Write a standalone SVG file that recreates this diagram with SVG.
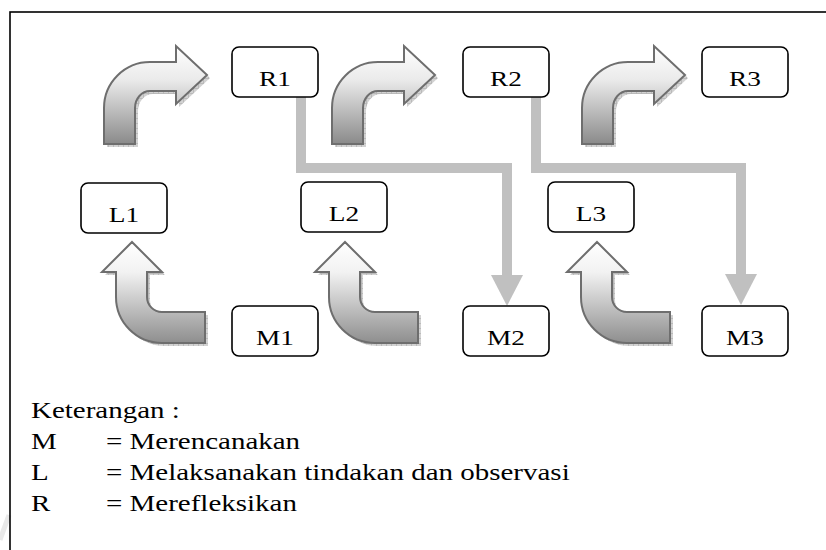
<svg xmlns="http://www.w3.org/2000/svg" width="826" height="550" viewBox="0 0 826 550">
  <style>
    .frame { fill: none; stroke: #000; stroke-width: 1.6; }
    .box { fill: #fff; stroke: #000; stroke-width: 1.6; }
    .lbl { font-family: "Liberation Serif", "Times New Roman", serif; font-size: 21px; text-anchor: middle; fill: #000; }
    .lg { font-family: "Liberation Serif", "Times New Roman", serif; font-size: 23px; fill: #000; }
    .conn { fill: none; stroke: #c0c0c0; stroke-width: 10; stroke-linejoin: miter; stroke-linecap: butt; }
    .barrow { stroke: #6e6e6e; stroke-width: 2; stroke-linejoin: miter; }
    .shadow { fill: url(#hatch); stroke: none; }
  </style>
  <defs>
    <linearGradient id="gTop" x1="0" y1="0" x2="0" y2="1">
      <stop offset="0" stop-color="#ffffff"/>
      <stop offset="0.35" stop-color="#eaeaea"/>
      <stop offset="1" stop-color="#8a8a8a"/>
    </linearGradient>
    <linearGradient id="gBot" x1="0" y1="0" x2="0" y2="1">
      <stop offset="0" stop-color="#ffffff"/>
      <stop offset="0.3" stop-color="#f2f2f2"/>
      <stop offset="1" stop-color="#8e8e8e"/>
    </linearGradient>
    <pattern id="hatch" width="5" height="5" patternUnits="userSpaceOnUse">
      <rect width="5" height="5" fill="#d2d2d2"/>
      <path d="M0,0.5 H5 M0.5,0 V5" stroke="#b4b4b4" stroke-width="0.8"/>
    </pattern>
    <marker id="ah" markerUnits="userSpaceOnUse" markerWidth="31" markerHeight="32" viewBox="0 0 31 32" refX="0" refY="16" orient="auto">
      <path d="M0,0 L31,16 L0,32 Z" fill="#c0c0c0"/>
    </marker>
    <path id="arrUp" d="M104,144 L104,108 A46,46 0 0 1 150,62 L176,62 L176,46 L207,75 L176,104 L176,91 L150,91 A15,17 0 0 0 135,108 L135,144 Z"/>
    <path id="arrBot" d="M132,242 L162,272 L147,272 L147,297 A15,15 0 0 0 162,312 L205,312 L205,343 L162,343 A46,46 0 0 1 116,297 L116,272 L102,272 Z"/>
  </defs>

  <rect width="826" height="550" fill="#fff"/>
  <line x1="0" y1="540" x2="9" y2="515" stroke="#e9e9e9" stroke-width="5"/>
  <rect class="frame" x="10" y="12" width="840" height="560"/>

  <g id="block-arrows">
    <g id="arrow-m1-l1">
      <use href="#arrBot" class="shadow" transform="translate(3,3)"/>
      <use href="#arrBot" class="barrow" fill="url(#gBot)"/>
    </g>
    <g id="arrow-l1-r1">
      <use href="#arrUp" class="shadow" transform="translate(3,3)"/>
      <use href="#arrUp" class="barrow" fill="url(#gTop)"/>
    </g>
    <g id="arrow-m2-l2" transform="translate(213,0)">
      <use href="#arrBot" class="shadow" transform="translate(3,3)"/>
      <use href="#arrBot" class="barrow" fill="url(#gBot)"/>
    </g>
    <g id="arrow-l2-r2" transform="translate(228,0)">
      <use href="#arrUp" class="shadow" transform="translate(3,3)"/>
      <use href="#arrUp" class="barrow" fill="url(#gTop)"/>
    </g>
    <g id="arrow-m3-l3" transform="translate(465,0)">
      <use href="#arrBot" class="shadow" transform="translate(3,3)"/>
      <use href="#arrBot" class="barrow" fill="url(#gBot)"/>
    </g>
    <g id="arrow-l3-r3" transform="translate(478,0)">
      <use href="#arrUp" class="shadow" transform="translate(3,3)"/>
      <use href="#arrUp" class="barrow" fill="url(#gTop)"/>
    </g>
  </g>

  <g id="connectors">
    <path class="conn" d="M301,97 V168 H507 V275" marker-end="url(#ah)"/>
    <path class="conn" d="M536,97 V168 H741 V274" marker-end="url(#ah)"/>
  </g>

  <g id="R1"><rect class="box" x="232" y="47" width="86" height="50" rx="7"/><text class="lbl" transform="translate(275,86) scale(1.3,1)">R1</text></g>
  <g id="R2"><rect class="box" x="463" y="47" width="86" height="50" rx="7"/><text class="lbl" transform="translate(506,86) scale(1.3,1)">R2</text></g>
  <g id="R3"><rect class="box" x="702" y="47" width="86" height="50" rx="7"/><text class="lbl" transform="translate(745,86) scale(1.3,1)">R3</text></g>
  <g id="L1"><rect class="box" x="81" y="183" width="86" height="50" rx="7"/><text class="lbl" transform="translate(124,222) scale(1.3,1)">L1</text></g>
  <g id="L2"><rect class="box" x="301" y="182" width="86" height="50" rx="7"/><text class="lbl" transform="translate(344,221) scale(1.3,1)">L2</text></g>
  <g id="L3"><rect class="box" x="548" y="182" width="86" height="50" rx="7"/><text class="lbl" transform="translate(591,221) scale(1.3,1)">L3</text></g>
  <g id="M1"><rect class="box" x="232" y="306" width="86" height="50" rx="7"/><text class="lbl" transform="translate(275,345) scale(1.3,1)">M1</text></g>
  <g id="M2"><rect class="box" x="463" y="306" width="86" height="50" rx="7"/><text class="lbl" transform="translate(506,345) scale(1.3,1)">M2</text></g>
  <g id="M3"><rect class="box" x="702" y="306" width="86" height="50" rx="7"/><text class="lbl" transform="translate(745,345) scale(1.3,1)">M3</text></g>

  <g id="legend">
    <text class="lg" transform="translate(31,418) scale(1.26,1)">Keterangan :</text>
    <text class="lg" transform="translate(31,449) scale(1.26,1)">M</text>
    <text class="lg" transform="translate(106,449) scale(1.26,1)">= Merencanakan</text>
    <text class="lg" transform="translate(31,480) scale(1.26,1)">L</text>
    <text class="lg" transform="translate(106,480) scale(1.26,1)">= Melaksanakan tindakan dan observasi</text>
    <text class="lg" transform="translate(31,511) scale(1.26,1)">R</text>
    <text class="lg" transform="translate(106,511) scale(1.26,1)">= Merefleksikan</text>
  </g>
</svg>
